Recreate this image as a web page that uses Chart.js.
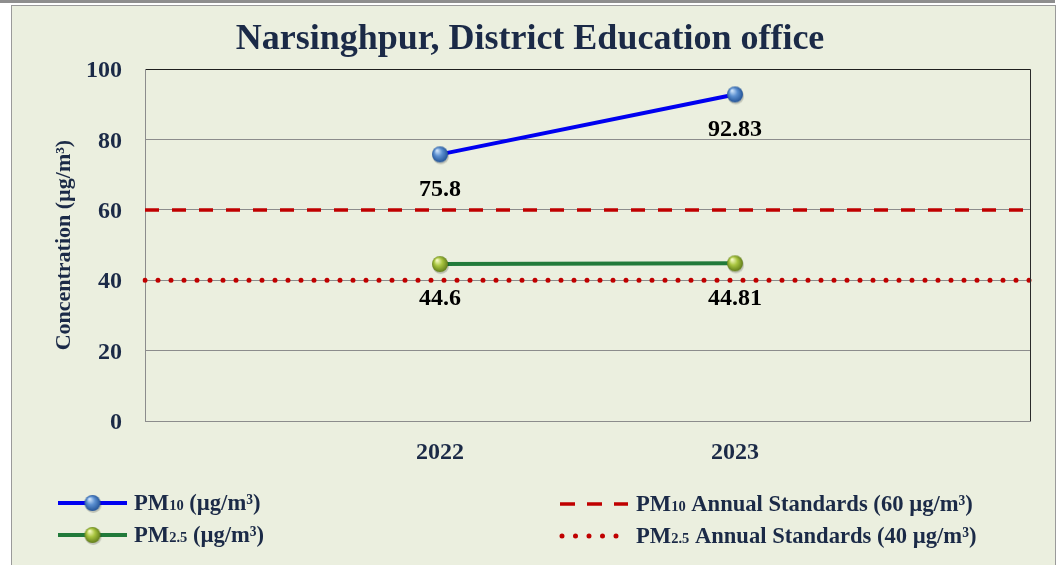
<!DOCTYPE html>
<html>
<head>
<meta charset="utf-8">
<script src="https://cdn.jsdelivr.net/npm/chart.js@4.4.1/dist/chart.umd.min.js"></script>
<style>
  html, body { margin: 0; padding: 0; background: #fff; }
  #wrap { width: 1060px; height: 565px; }
</style>
</head>
<body>
<div id="wrap"><canvas id="chart" width="1060" height="565"></canvas></div>
<script>
// data
const years = ['2022', '2023'];
const pm10 = [75.8, 92.83];
const pm25 = [44.6, 44.81];
const pm10Standard = 60;
const pm25Standard = 40;
const yTicks = [0, 20, 40, 60, 80, 100];

const navy = '#1b2a47';
const serif = '"Liberation Serif", "Times New Roman", serif';

// blank slots on both ends so the standard lines run across the whole plot
const labels = [''].concat(years, ['']);
const pad = arr => [null].concat(arr, [null]);
const flat = v => labels.map(() => v);

// little shaded balls used as markers
function sphere(light, mid, dark) {
  const c = document.createElement('canvas');
  c.width = 22; c.height = 22;
  const g = c.getContext('2d');
  g.fillStyle = 'rgba(0,0,0,0.18)';
  g.beginPath(); g.arc(11.8, 12.8, 8.2, 0, Math.PI * 2); g.fill();
  const grd = g.createRadialGradient(8, 7, 0.5, 11, 11, 8.5);
  grd.addColorStop(0, light);
  grd.addColorStop(0.45, mid);
  grd.addColorStop(1, dark);
  g.fillStyle = grd;
  g.beginPath(); g.arc(11, 11, 8, 0, Math.PI * 2); g.fill();
  return c;
}
const blueBall = sphere('#cfe4fb', '#5b8fd0', '#1f4f92');
const greenBall = sphere('#f6fbc4', '#a9c540', '#5c7817');

// page frame and chart background
const frame = {
  id: 'frame',
  beforeDraw(chart) {
    const ctx = chart.ctx;
    ctx.save();
    ctx.fillStyle = '#ffffff';
    ctx.fillRect(0, 0, 1060, 565);
    ctx.fillStyle = '#8e8e8e';
    ctx.fillRect(0, 0, 1055, 3);
    ctx.fillStyle = '#ebefdf';
    ctx.fillRect(12, 5, 1044, 565);
    ctx.strokeStyle = '#9a9a9a';
    ctx.lineWidth = 1;
    ctx.strokeRect(11.5, 5.5, 1044, 565);
    ctx.restore();
  },
  afterDraw(chart) {
    const a = chart.chartArea, ctx = chart.ctx;
    ctx.save();
    ctx.strokeStyle = '#2a2a2a';
    ctx.lineWidth = 1;
    ctx.beginPath();
    ctx.moveTo(Math.round(a.right) + 0.5, a.top);
    ctx.lineTo(Math.round(a.right) + 0.5, a.bottom);
    ctx.stroke();
    ctx.restore();
  }
};

// numbers under the points
const valueLabels = {
  id: 'valueLabels',
  afterDatasetsDraw(chart) {
    const ctx = chart.ctx;
    ctx.save();
    ctx.font = 'bold 24px ' + serif;
    ctx.fillStyle = '#000';
    ctx.textAlign = 'center';
    ctx.textBaseline = 'middle';
    chart.data.datasets.forEach((ds, i) => {
      if (!ds.showValues) return;
      chart.getDatasetMeta(i).data.forEach((pt, j) => {
        const v = ds.data[j];
        if (v == null) return;
        ctx.fillText(String(v), pt.x, pt.y + 35);
      });
    });
    ctx.restore();
  }
};

// two-column legend at the bottom
function richText(ctx, parts, x, y) {
  parts.forEach(p => {
    ctx.font = 'bold ' + (p.small ? 14.5 : 22.6) + 'px ' + serif;
    ctx.fillText(p.t, x, y);
    x += ctx.measureText(p.t).width;
  });
}
const bottomLegend = {
  id: 'bottomLegend',
  afterDraw(chart) {
    const ctx = chart.ctx;
    const ds = chart.data.datasets;
    ctx.save();
    ctx.fillStyle = navy;
    ctx.textBaseline = 'alphabetic';
    ds.forEach(d => {
      const L = d.legendAt;
      ctx.strokeStyle = d.borderColor;
      ctx.lineWidth = d.borderWidth;
      ctx.lineCap = d.borderCapStyle || 'butt';
      ctx.setLineDash(d.legendDash || []);
      ctx.beginPath();
      ctx.moveTo(L.x1, L.y);
      ctx.lineTo(L.x2, L.y);
      ctx.stroke();
      ctx.setLineDash([]);
      if (d.pointStyle && typeof d.pointStyle === 'object') {
        const img = d.pointStyle;
        ctx.drawImage(img, (L.x1 + L.x2) / 2 - img.width / 2, L.y - img.height / 2);
      }
      richText(ctx, d.legendText, L.tx, L.y + 7);
    });
    ctx.restore();
  }
};

new Chart(document.getElementById('chart'), {
  type: 'line',
  data: {
    labels: labels,
    datasets: [
      {
        label: 'PM10 Annual Standards (60 µg/m³)',
        data: flat(pm10Standard),
        borderColor: '#c00000',
        borderWidth: 3.5,
        borderDash: [14, 13],
        legendDash: [15, 12],
        pointRadius: 0,
        legendAt: { x1: 560, x2: 628, y: 504, tx: 636 },
        legendText: [{ t: 'PM' }, { t: '10', small: true }, { t: ' Annual Standards (60 µg/m³)' }]
      },
      {
        label: 'PM2.5 Annual Standards (40 µg/m³)',
        data: flat(pm25Standard),
        borderColor: '#c00000',
        borderWidth: 5,
        borderDash: [0, 13],
        legendDash: [0, 13.5],
        borderCapStyle: 'round',
        pointRadius: 0,
        legendAt: { x1: 562, x2: 617, y: 536, tx: 636 },
        legendText: [{ t: 'PM' }, { t: '2.5', small: true }, { t: ' Annual Standards (40 µg/m³)' }]
      },
      {
        label: 'PM10 (µg/m³)',
        data: pad(pm10),
        borderColor: '#0000f0',
        borderWidth: 4,
        pointStyle: blueBall,
        pointRadius: 8,
        showValues: true,
        legendAt: { x1: 58, x2: 127, y: 503, tx: 134 },
        legendText: [{ t: 'PM' }, { t: '10', small: true }, { t: ' (µg/m³)' }]
      },
      {
        label: 'PM2.5 (µg/m³)',
        data: pad(pm25),
        borderColor: '#217a3a',
        borderWidth: 4,
        pointStyle: greenBall,
        pointRadius: 8,
        showValues: true,
        legendAt: { x1: 58, x2: 127, y: 535, tx: 134 },
        legendText: [{ t: 'PM' }, { t: '2.5', small: true }, { t: ' (µg/m³)' }]
      }
    ]
  },
  options: {
    responsive: false,
    animation: false,
    layout: { padding: 0 },
    plugins: {
      legend: { display: false },
      tooltip: { enabled: false },
      title: {
        display: true,
        text: 'Narsinghpur, District Education office',
        color: navy,
        font: { family: serif, size: 36, weight: 'bold', lineHeight: 1.2 },
        padding: { top: 18, bottom: 8 }
      }
    },
    scales: {
      x: {
        offset: false,
        grid: { display: false },
        border: { display: true, color: '#8c8c8c', width: 1 },
        ticks: {
          color: navy,
          padding: 9,
          maxRotation: 0,
          autoSkip: false,
          font: { family: serif, size: 24, weight: 'bold' }
        },
        afterFit(scale) { scale.height = 144; }
      },
      y: {
        min: yTicks[0],
        max: yTicks[yTicks.length - 1],
        afterBuildTicks(scale) { scale.ticks = yTicks.map(v => ({ value: v })); },
        grid: {
          drawTicks: false,
          color: c => (c.tick && c.tick.value === 100 ? '#1e1e1e' : '#8c8c8c'),
          lineWidth: 1
        },
        border: { display: true, color: '#8c8c8c', width: 1 },
        ticks: {
          color: navy,
          padding: 23,
          labelOffset: 2,
          font: { family: serif, size: 24, weight: 'bold' }
        },
        title: {
          display: true,
          text: 'Concentration (µg/m³)',
          color: navy,
          font: { family: serif, size: 22, weight: 'bold', lineHeight: 1.2 },
          padding: { top: 51, bottom: 0 }
        },
        afterFit(scale) { scale.width = 145; }
      },
      // empty strip on the right so the plot stops short of the frame
      rightGap: {
        type: 'linear',
        position: 'right',
        display: true,
        grid: { display: false },
        border: { display: false },
        ticks: { display: false },
        afterFit(scale) { scale.width = 30; }
      }
    }
  },
  plugins: [frame, valueLabels, bottomLegend]
});
</script>
</body>
</html>
